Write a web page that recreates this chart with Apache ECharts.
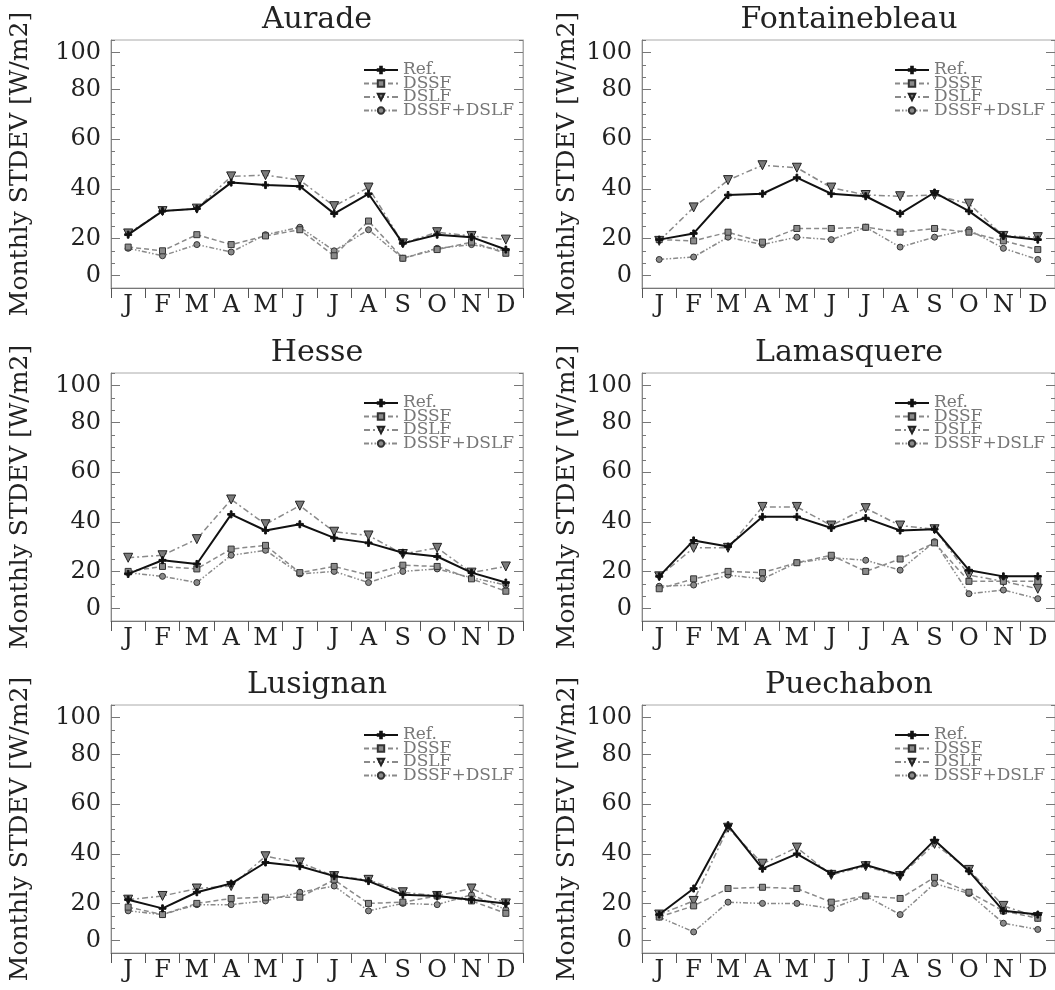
<!DOCTYPE html>
<html>
<head>
<meta charset="utf-8">
<script src="https://cdn.jsdelivr.net/npm/echarts@6/dist/echarts.min.js"></script>
<style>
html, body { margin: 0; padding: 0; background: #fff; }
#chart { width: 1055px; height: 990px; }
</style>
</head>
<body>
<div id="chart"></div>
<script>
const months = ['J', 'F', 'M', 'A', 'M', 'J', 'J', 'A', 'S', 'O', 'N', 'D']
const seriesNames = ['Ref.', 'DSSF', 'DSLF', 'DSSF+DSLF']
const sites = ['Aurade', 'Fontainebleau', 'Hesse', 'Lamasquere', 'Lusignan', 'Puechabon']
// tick positions on the y scale and the text the original plot printed there
const yTickValues = [5, 20, 40, 60, 80, 95]
const yTickLabels = ['0', '20', '40', '60', '80', '100']
const yName = 'Monthly STDEV [W/m2]'

// values (W/m2)
const auradeRef = [21.5, 31, 32, 42.5, 41.5, 41, 30, 38, 18, 21.5, 20.5, 15.5]
const auradeDssf = [16.5, 15, 21.5, 17.5, 21, 23.5, 13, 27, 12, 15.5, 18.5, 14]
const auradeDslf = [22, 31, 32, 45, 45.5, 43.5, 33, 40.5, 18, 22.5, 21, 19.5]
const auradeBoth = [16, 13, 17.5, 14.5, 21.5, 24.5, 15, 23.5, 12, 16, 17.5, 15]

const fontRef = [19.5, 22, 37.5, 38, 44.5, 38, 37, 30, 38.5, 31, 21, 19.5]
const fontDssf = [19.5, 19, 22.5, 18.5, 24, 24, 24.5, 22.5, 24, 22.5, 19, 15.5]
const fontDslf = [19, 32.5, 43.5, 49.5, 48.5, 40.5, 37.5, 37, 37.5, 34, 21, 20.5]
const fontBoth = [11.5, 12.5, 20.5, 17.5, 20.5, 19.5, 24.5, 16.5, 20.5, 23.5, 16, 11.5]

const hesseRef = [19, 24.5, 23, 43, 36.5, 39, 33.5, 31.5, 27.5, 26, 19.5, 15.5]
const hesseDssf = [20, 22, 21, 29, 30.5, 19.5, 22, 18.5, 22.5, 22, 17, 12]
const hesseDslf = [25.5, 26.5, 33, 49, 39, 46.5, 36, 34.5, 27, 29.5, 19.5, 22]
const hesseBoth = [19.5, 18, 15.5, 26.5, 28.5, 19, 20, 15.5, 20, 21, 17.5, 14.5]

const lamaRef = [18, 32.5, 30, 42, 42, 37.5, 41.5, 36.5, 37, 20.5, 18, 18]
const lamaDssf = [13, 17, 20, 19.5, 23.5, 26.5, 20, 25, 31.5, 16, 16, 16]
const lamaDslf = [18, 29.5, 29.5, 46, 46, 38.5, 45.5, 38.5, 37, 18.5, 16, 13]
const lamaBoth = [14, 14.5, 18.5, 17, 23.5, 25.5, 24.5, 20.5, 32, 11, 12.5, 9]

const lusiRef = [21.5, 18, 24.5, 28, 36.5, 35, 31, 29, 23.5, 23, 21.5, 20]
const lusiDssf = [18.5, 15.5, 20, 22, 22.5, 22.5, 29.5, 20, 20.5, 23, 21, 16]
const lusiDslf = [21.5, 23, 26, 27, 39, 36.5, 31, 29.5, 24.5, 23, 26, 20]
const lusiBoth = [17, 15.5, 19.5, 19.5, 21, 24.5, 27, 17, 20, 19.5, 23.5, 17.5]

const puecRef = [15.5, 26, 51.5, 34, 40, 32, 35.5, 31.5, 45.5, 33, 17, 15.5]
const puecDssf = [14.5, 19, 26, 26.5, 26, 20.5, 23, 22, 30.5, 24.5, 17, 14]
const puecDslf = [15.5, 21, 50.5, 36, 42.5, 31.5, 35, 31, 44, 33.5, 19, 14.5]
const puecBoth = [14.5, 8.5, 20.5, 20, 20, 18, 23, 15.5, 28, 24, 12, 9.5]

const siteData = [
  [auradeRef, auradeDssf, auradeDslf, auradeBoth],
  [fontRef, fontDssf, fontDslf, fontBoth],
  [hesseRef, hesseDssf, hesseDslf, hesseBoth],
  [lamaRef, lamaDssf, lamaDslf, lamaBoth],
  [lusiRef, lusiDssf, lusiDslf, lusiBoth],
  [puecRef, puecDssf, puecDslf, puecBoth]
]

const FONT = 'DejaVu Serif'
const colLeft = [111, 642]
const colWidth = [412, 414]
const rowTop = [40, 373, 705]
const plotH = 248

const plusPath = 'path://M3,0h2v3h3v2h-3v3h-2v-3h-3v-2h3z'
const triPath = 'path://M0,0L10,0L5,9z'

// style of the four lines, same in every panel
const looks = [
  { line: { color: '#111', width: 2, type: 'solid' }, symbol: plusPath, size: 7, fill: '#111', edge: '#111' },
  { line: { color: '#8a8a8a', width: 1.5, type: [5, 3] }, symbol: 'rect', size: 6, fill: '#8a8a8a', edge: '#333' },
  { line: { color: '#8a8a8a', width: 1.5, type: [6, 3, 2, 3] }, symbol: triPath, size: 9, fill: '#7a7a7a', edge: '#222' },
  { line: { color: '#8a8a8a', width: 1.5, type: [5, 2, 1.5, 2, 1.5, 2] }, symbol: 'circle', size: 6, fill: '#8a8a8a', edge: '#333' }
]

const grid = []
const xAxis = []
const yAxis = []
const series = []
const title = []
const legend = []

sites.forEach(function (site, g) {
  const col = g % 2
  const row = Math.floor(g / 2)
  const left = colLeft[col]
  const top = rowTop[row]
  grid.push({ left: left, top: top, width: colWidth[col], height: plotH, show: true, borderColor: '#aaa', borderWidth: 1, backgroundColor: '#fff' })

  title.push({
    text: site,
    left: left + colWidth[col] / 2,
    top: top - 35,
    textAlign: 'center',
    padding: 0,
    textStyle: { fontFamily: FONT, fontSize: 30, fontWeight: 'normal', color: '#222' }
  })

  xAxis.push({
    type: 'category',
    gridIndex: g,
    data: months,
    boundaryGap: true,
    axisLine: { lineStyle: { color: '#777', width: 1 } },
    axisTick: { show: true, length: 10, lineStyle: { color: '#555' } },
    axisLabel: { fontFamily: FONT, fontSize: 24, color: '#222', margin: 6, interval: 0 },
    splitLine: { show: false }
  })

  const base = { type: 'value', gridIndex: g, min: 0, max: 100, splitLine: { show: false } }
  yAxis.push(Object.assign({}, base, {
    position: 'left',
    interval: 5,
    name: yName,
    nameLocation: 'middle',
    nameRotate: 90,
    nameGap: col === 0 ? 78 : 62,
    nameTextStyle: { fontFamily: FONT, fontSize: 25, color: '#222' },
    axisLine: { show: true, lineStyle: { color: '#888' } },
    axisTick: { show: true, inside: true, length: 4, lineStyle: { color: '#777' } },
    axisLabel: {
      customValues: yTickValues,
      fontFamily: FONT, fontSize: 24, color: '#222', margin: 10,
      formatter: function (v) { return yTickLabels[yTickValues.indexOf(v)] }
    }
  }))
  yAxis.push(Object.assign({}, base, {
    position: 'left',
    axisLine: { show: false },
    axisTick: { show: true, inside: true, length: 9, customValues: yTickValues, lineStyle: { color: '#777' } },
    axisLabel: { show: false }
  }))
  yAxis.push(Object.assign({}, base, {
    position: 'right',
    interval: 5,
    axisLine: { show: true, lineStyle: { color: '#aaa' } },
    axisTick: { show: true, inside: true, length: 4, lineStyle: { color: '#777' } },
    axisLabel: { show: false }
  }))
  yAxis.push(Object.assign({}, base, {
    position: 'right',
    axisLine: { show: false },
    axisTick: { show: true, inside: true, length: 9, customValues: yTickValues, lineStyle: { color: '#777' } },
    axisLabel: { show: false }
  }))

  siteData[g].forEach(function (vals, k) {
    const lk = looks[k]
    series.push({
      name: seriesNames[k],
      type: 'line',
      xAxisIndex: g,
      yAxisIndex: g * 4,
      data: vals,
      symbol: lk.symbol,
      symbolSize: lk.size,
      z: 10 - k,
      lineStyle: lk.line,
      itemStyle: { color: lk.fill, borderColor: lk.edge, borderWidth: 1 },
      emphasis: { disabled: true }
    })
  })

  legend.push({
    data: seriesNames,
    orient: 'vertical',
    left: left + 252,
    top: top + 16,
    itemWidth: 34,
    itemHeight: 8,
    itemGap: -14.5,
    padding: 0,
    selectedMode: false,
    textStyle: { fontFamily: FONT, fontSize: 17, color: '#777', padding: [0, 0, 14, 0], lineHeight: 14 }
  })
})

const chart = echarts.init(document.getElementById('chart'))
chart.setOption({
  animation: false,
  backgroundColor: '#fff',
  title: title,
  legend: legend,
  grid: grid,
  xAxis: xAxis,
  yAxis: yAxis,
  series: series
})
</script>
</body>
</html>
